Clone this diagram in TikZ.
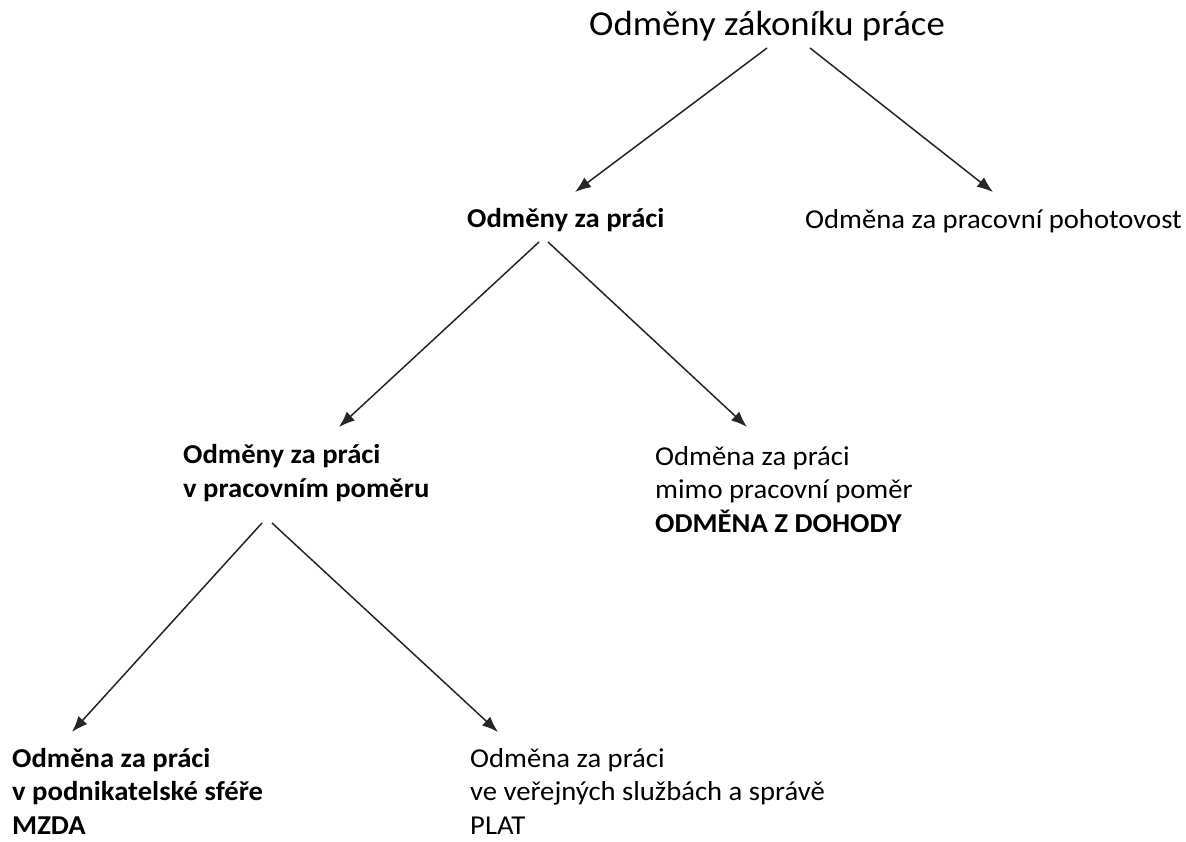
\documentclass[tikz,border=0pt]{standalone}
\usepackage{fontspec}
\setmainfont[FakeStretch=1.05]{Carlito}
\usetikzlibrary{arrows.meta}

\begin{document}
\begin{tikzpicture}[x=1pt,y=-1pt,>={Latex[length=16pt,width=12pt]}]

	\tikzstyle{head}  = [inner sep=0pt, font=\fontsize{35}{42}\selectfont]
	\tikzstyle{item}  = [inner sep=0pt, align=left, anchor=base west, font=\fontsize{27.3}{33.5}\selectfont]
	\tikzstyle{bitem} = [item, font=\fontsize{27.3}{33.5}\selectfont\bfseries]
	\tikzstyle{pre}   = [->, line width=1.5pt, draw=black!85]

	\useasboundingbox (0,0) rectangle (1186,841);

	\node [head, anchor=base] (odmeny) at (767,35) {Odměny zákoníku práce};

	% base of a multi-line node is its last line
	\node [bitem] (prace) at (467,227) {Odměny za práci};
	\node [item]  (pohot) at (805,228) {Odměna za pracovní pohotovost};

	\node [bitem] (pomer) at (183,497) {Odměny za práci\\v pracovním poměru};
	\node [item]  (dohoda) at (655,532) {Odměna za práci\\mimo pracovní poměr\\\textbf{ODMĚNA Z DOHODY}};

	\node [bitem] (mzda) at (12,834) {Odměna za práci\\v podnikatelské sféře\\MZDA};
	\node [item]  (plat) at (470,834) {Odměna za práci\\ve veřejných službách a správě\\PLAT};

	\draw [pre] ([yshift=-13pt]odmeny.base) -- ([shift={(108pt,35pt)}]prace.base west);
	\draw [pre] ([shift={(43pt,-13pt)}]odmeny.base) -- ([shift={(188pt,36pt)}]pohot.base west);

	\draw [pre] ([shift={(72pt,-15pt)}]prace.base west) -- ([shift={(156pt,70pt)}]pomer.base west);
	\draw [pre] ([shift={(81pt,-15pt)}]prace.base west) -- ([shift={(92pt,105pt)}]dohoda.base west);

	\draw [pre] ([shift={(79pt,-26pt)}]pomer.base west) -- ([shift={(60pt,102pt)}]mzda.base west);
	\draw [pre] ([shift={(89pt,-26pt)}]pomer.base west) -- ([shift={(28pt,102pt)}]plat.base west);

\end{tikzpicture}
\end{document}
